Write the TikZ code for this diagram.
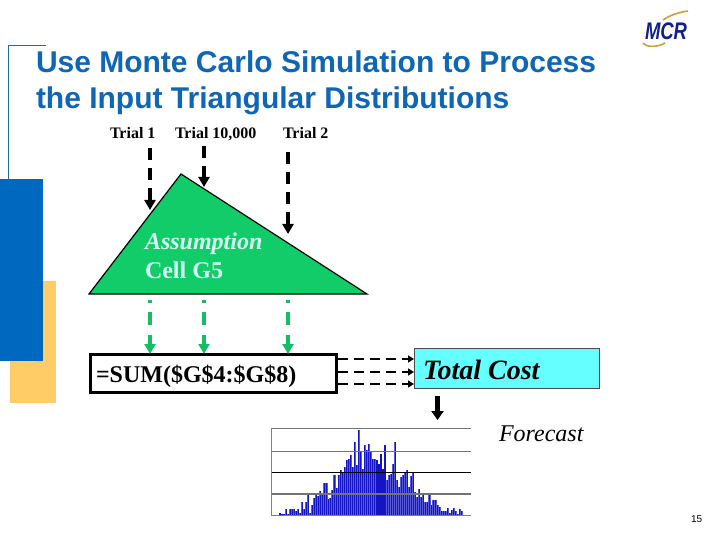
\documentclass[tikz,border=0pt]{standalone}
\usepackage{fontspec}
\setmainfont{Liberation Serif}
\setsansfont{Liberation Sans}
\usetikzlibrary{arrows.meta}
\definecolor{titleblue}{HTML}{0F66B4}
\definecolor{panelblue}{HTML}{0068BE}
\definecolor{panelgold}{HTML}{FFCC66}
\definecolor{framecol}{HTML}{246C96}
\definecolor{trigreen}{HTML}{12CC6A}
\definecolor{arrowgreen}{HTML}{14BE64}
\definecolor{costcyan}{HTML}{66FFFF}
\definecolor{celltext}{HTML}{D6FFF4}
\definecolor{barblue}{HTML}{1414C4}
\definecolor{barlight}{HTML}{5A5ADC}
\definecolor{logonavy}{HTML}{12208C}
\definecolor{logogold}{HTML}{C8A040}
\tikzset{
  x=1pt,y=-1pt,
  lab/.style={anchor=base west,inner sep=0pt,outer sep=0pt},
  trialtxt/.style={lab,font=\fontsize{16}{18}\selectfont\bfseries},
  blackarrow/.style={draw=black,line width=4pt,dash pattern=on 12pt off 8pt,
    -{Triangle[width=11pt,length=10pt,sep=0pt]}},
  greenarrow/.style={draw=arrowgreen,line width=4pt,dash pattern=on 3pt off 9pt on 13pt off 10pt on 20pt,
    -{Triangle[width=11pt,length=10pt,sep=0pt]}},
  thinarrow/.style={draw=black,line width=1.5pt,dash pattern=on 10pt off 6pt,
    -{Triangle[width=7pt,length=6pt,sep=0pt]}},
  gridline/.style={line width=0.8pt,draw=black!55},
}
\begin{document}
\begin{tikzpicture}
\useasboundingbox (0,0) rectangle (720,540);
\fill[white] (0,0) rectangle (720,540);
% side panels
\draw[framecol,line width=0.8pt] (8.5,179) -- (8.5,45.5) -- (46,45.5);
\fill[panelgold] (10,281) rectangle (56,403);
\fill[panelblue] (0,179) rectangle (43,361);
% title
\node[lab,font=\fontsize{30}{32}\selectfont\sffamily\bfseries,text=titleblue] (title1) at (36,72.5) {Use Monte Carlo Simulation to Process};
\node[lab,font=\fontsize{30}{32}\selectfont\sffamily\bfseries,text=titleblue] (title2) at (36,108.5) {the Input Triangular Distributions};
% logo
\draw[logogold,line width=1.6pt] (643,43) .. controls (647,48) and (658,47) .. (665,43);
\draw[logogold,line width=1.6pt] (663,20) .. controls (670,15) and (680,12) .. (688,11);
\node[lab,font=\fontsize{24}{26}\selectfont\sffamily\bfseries\itshape,text=logonavy,xscale=0.77] (logo) at (645,40) {MCR};
% trials
\node[trialtxt] (t1) at (110,139) {Trial 1};
\node[trialtxt] (t2) at (175,139) {Trial 10,000};
\node[trialtxt] (t3) at (283,139) {Trial 2};
% triangle
\coordinate (apex) at (181,174);
\coordinate (tl) at (89,294);
\coordinate (tr) at (367,294);
\draw[fill=trigreen,draw=black,line width=1.2pt,line join=miter] (apex) -- (tl) -- (tr) -- cycle;
\node[lab,font=\fontsize{24}{26}\selectfont\bfseries\itshape,text=celltext] (a1) at (145,249) {Assumption};
\node[lab,font=\fontsize{24}{26}\selectfont\bfseries,text=celltext] (a2) at (145,278) {Cell G5};
% trial arrows
\coordinate (s1) at (150,148); \coordinate (e1) at (150,210);
\coordinate (s2) at (204,146); \coordinate (e2) at (204,187);
\coordinate (s3) at (288,152); \coordinate (e3) at (288,234);
\draw[blackarrow] (s1) -- (e1);
\draw[blackarrow] (s2) -- (e2);
\draw[blackarrow] (s3) -- (e3);
% SUM box
\node[draw=black,line width=3pt,fill=white,minimum width=245.7pt,minimum height=38pt,inner sep=0pt,anchor=north west] (sum) at (89.3,353) {};
\node[lab,font=\fontsize{24}{26}\selectfont\bfseries] (sumt) at (96,382) {=SUM(\$G\$4:\$G\$8)};
% green arrows
\coordinate (g1) at (150,300); \coordinate (h1) at (150,354);
\coordinate (g2) at (204,300); \coordinate (h2) at (204,354);
\coordinate (g3) at (288,300); \coordinate (h3) at (288,354);
\draw[greenarrow] (g1) -- (h1);
\draw[greenarrow] (g2) -- (h2);
\draw[greenarrow] (g3) -- (h3);
% Total cost
\node[draw=black!70,line width=0.8pt,fill=costcyan,minimum width=185pt,minimum height=40pt,inner sep=0pt,anchor=north west] (cost) at (414.3,348.3) {};
\node[lab,font=\fontsize{28}{30}\selectfont\bfseries\itshape] (costt) at (423,379) {Total Cost};
\coordinate (d1) at (338,359); \coordinate (c1) at (414,359);
\coordinate (d2) at (338,372); \coordinate (c2) at (414,372);
\coordinate (d3) at (338,384); \coordinate (c3) at (414,384);
\draw[thinarrow] (d1) -- (c1);
\draw[thinarrow] (d2) -- (c2);
\draw[thinarrow] (d3) -- (c3);
\coordinate (f1) at (437.5,396); \coordinate (f2) at (437.5,420);
\draw[draw=black,line width=5pt,-{Triangle[width=12pt,length=9pt,sep=0pt]}] (f1) -- (f2);
\node[lab,font=\fontsize{24}{26}\selectfont\itshape] (fc) at (499,441) {Forecast};
% histogram
\foreach \h [count=\i from 0] in {7,3,3,18,4,18,18,18,14,20,8,40,18,40,62,8,30,52,60,58,72,66,98,98,50,52,75,120,82,122,135,130,145,165,170,180,145,220,150,255,190,140,210,195,215,190,170,170,165,155,185,140,210,105,120,125,155,220,105,85,115,120,130,135,85,118,128,70,55,80,55,60,40,40,62,30,45,45,30,25,12,14,12,22,6,15,22,12,5,18,12}{
  \pgfmathsetmacro{\bx}{280+2.02*\i}
  \pgfmathsetmacro{\bt}{515.3-\h/3}
  \fill[barlight] (\bx-1.05,\bt) rectangle (\bx+1.05,515.3);
  \fill[barblue] (\bx-0.55,\bt) rectangle (\bx+0.55,515.3);
}
\draw[gridline] (271,428) -- (471,428);
\draw[gridline] (271,451.5) -- (471,451.5);
\draw[black,line width=0.9pt] (271,472.3) -- (471,472.3);
\draw[black!55,line width=1.3pt] (271,494) -- (471,494);
\draw[black!50,line width=0.7pt] (271,515.5) -- (471,515.5);
\draw[black!50,line width=0.7pt] (271.5,428) -- (271.5,515.5);
% page number
\node[lab,font=\fontsize{10}{11}\selectfont\sffamily] (pg) at (691,522) {15};
\end{tikzpicture}
\end{document}
